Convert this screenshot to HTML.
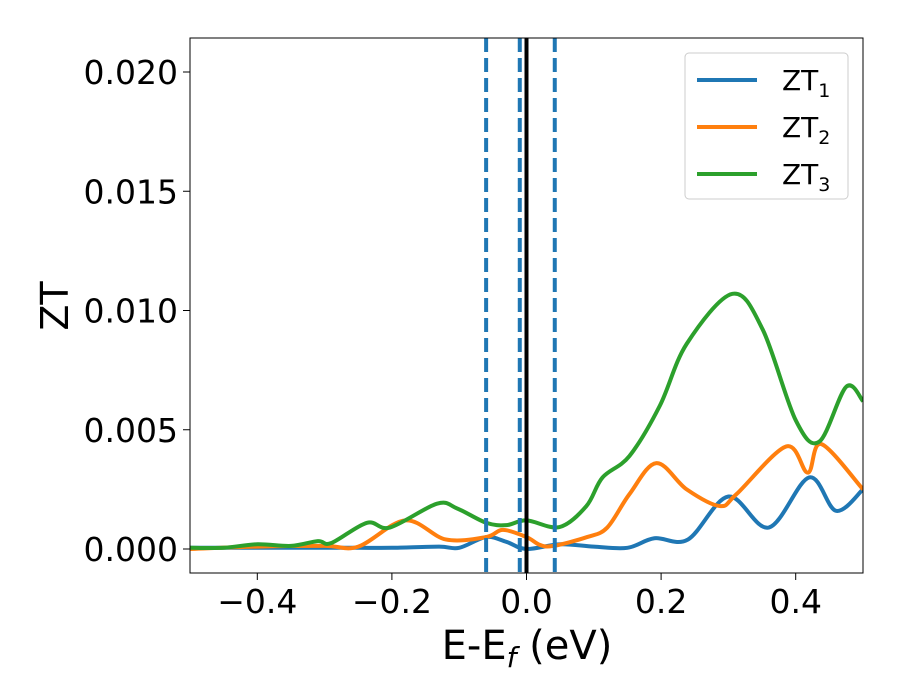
<!DOCTYPE html>
<html><head><meta charset="utf-8"><style>body{margin:0;background:#fff}svg{display:block}text{font-family:"DejaVu Sans","Liberation Sans",sans-serif;fill:#000}</style></head>
<body>
<svg id="chart" width="900" height="700">
<rect x="190" y="38" width="673" height="535" fill="#fff" stroke="none"/>
<g id="marks"></g>
<rect x="190" y="38" width="673" height="535" fill="none" stroke="#000" stroke-width="1"/>
<g id="axes"></g>
<text x="527" y="659" font-size="40" text-anchor="middle">E-E<tspan font-size="28" dy="8" font-style="italic">f</tspan><tspan dy="-8"> (eV)</tspan></text>
<text transform="translate(68,306) rotate(-90)" font-size="38" text-anchor="middle">ZT</text>
<g>
<rect x="685" y="53" width="163" height="146" rx="4" fill="#fff" stroke="#ccc"/>
<g><line x1="697" y1="80" x2="757" y2="80" stroke="#1f77b4" stroke-width="4"/><text x="782" y="90" font-size="28">ZT<tspan font-size="19" dy="7">1</tspan></text></g>
<g><line x1="697" y1="127" x2="757" y2="127" stroke="#ff7f0e" stroke-width="4"/><text x="782" y="137" font-size="28">ZT<tspan font-size="19" dy="7">2</tspan></text></g>
<g><line x1="697" y1="174" x2="757" y2="174" stroke="#2ca02c" stroke-width="4"/><text x="782" y="184" font-size="28">ZT<tspan font-size="19" dy="7">3</tspan></text></g>
</g>
</svg>
<script>
const xTicks=[-0.4,-0.2,0.0,0.2,0.4];
const xTickLabels=["−0.4","−0.2","0.0","0.2","0.4"];
const yTicks=[0,0.005,0.01,0.015,0.02];
const yTickLabels=["0.000","0.005","0.010","0.015","0.020"];
const dashedLines=[-0.06,-0.01,0.042];
const solidLine=[0.0];
const zt1X=[-0.5,-0.4,-0.3,-0.25,-0.2,-0.13,-0.1,-0.06,-0.03,0.0,0.05,0.1,0.15,0.19,0.24,0.3,0.36,0.42,0.46,0.5];
const zt1Y=[0.00005,0.00005,0.00005,0.00005,0.00005,0.0001,0.00005,0.0005,0.0003,0.0,0.0002,0.0001,0.00005,0.00045,0.0004,0.0022,0.0009,0.003,0.0016,0.0025];
const zt2X=[-0.5,-0.4,-0.3,-0.25,-0.18,-0.12,-0.06,-0.035,0.0,0.02,0.04,0.09,0.12,0.153,0.193,0.238,0.287,0.312,0.386,0.418,0.438,0.5];
const zt2Y=[0,0.0001,0.00013,0.0001,0.0012,0.0004,0.0005,0.0008,0.0005,0.00017,0.00013,0.0005,0.0009,0.0023,0.0036,0.0025,0.0018,0.0023,0.0043,0.0032,0.0044,0.0025];
const zt3X=[-0.5,-0.45,-0.4,-0.35,-0.31,-0.29,-0.237,-0.203,-0.133,-0.103,-0.06,-0.03,0.0,0.049,0.089,0.113,0.153,0.198,0.238,0.306,0.351,0.4,0.435,0.475,0.5];
const zt3Y=[0.00005,0.00005,0.0002,0.00013,0.00033,0.00025,0.0011,0.0009,0.0019,0.0017,0.0011,0.001,0.0012,0.00092,0.0018,0.003,0.0039,0.006,0.0086,0.0107,0.0092,0.0054,0.0045,0.0068,0.0062];
const X=v=>190+(v+0.5)*673;
const Y=v=>549-v*23850;
const NS="http://www.w3.org/2000/svg";
const marks=document.getElementById('marks'),axes=document.getElementById('axes');
function mk(tag,attrs,parent){const e=document.createElementNS(NS,tag);for(const k in attrs)e.setAttribute(k,attrs[k]);parent.appendChild(e);return e;}
function smooth(xs,ys){const p=xs.map((x,i)=>[X(x),Y(ys[i])]);let d="M"+p[0][0]+","+p[0][1];
for(let i=0;i<p.length-1;i++){const p0=p[Math.max(0,i-1)],p1=p[i],p2=p[i+1],p3=p[Math.min(p.length-1,i+2)];
d+=" C"+(p1[0]+(p2[0]-p0[0])/6)+","+(p1[1]+(p2[1]-p0[1])/6)+" "+(p2[0]-(p3[0]-p1[0])/6)+","+(p2[1]-(p3[1]-p1[1])/6)+" "+p2[0]+","+p2[1];}return d;}
const series=[[zt1X,zt1Y,"#1f77b4","zt1-line"],[zt2X,zt2Y,"#ff7f0e","zt2-line"],[zt3X,zt3Y,"#2ca02c","zt3-line"]];
const clip=mk('clipPath',{id:'pc'},marks);mk('rect',{x:190,y:38,width:673,height:535},clip);
series.forEach(s=>{const e=mk('path',{d:smooth(s[0],s[1]),fill:'none',stroke:s[2],'stroke-width':4,'clip-path':'url(#pc)'},marks);

});
dashedLines.forEach(v=>{const e=mk('line',{x1:X(v),x2:X(v),y1:38,y2:573,stroke:'#1f77b4','stroke-width':4,'stroke-dasharray':'14 6'},marks);

});
solidLine.forEach(v=>{const e=mk('line',{x1:X(v),x2:X(v),y1:38,y2:573,stroke:'#000','stroke-width':4},marks);

});
xTicks.forEach((v,i)=>{const l=mk('line',{x1:X(v),x2:X(v),y1:573,y2:580,stroke:'#000','stroke-width':1},axes);


const t=mk('text',{x:X(v),y:613,'font-size':33,'text-anchor':'middle'},axes);t.textContent=xTickLabels[i];

});
yTicks.forEach((v,i)=>{const l=mk('line',{x1:183,x2:190,y1:Y(v),y2:Y(v),stroke:'#000','stroke-width':1},axes);


const t=mk('text',{x:178,y:Y(v)+12,'font-size':33,'text-anchor':'end'},axes);t.textContent=yTickLabels[i];

});
</script>
</body></html>
